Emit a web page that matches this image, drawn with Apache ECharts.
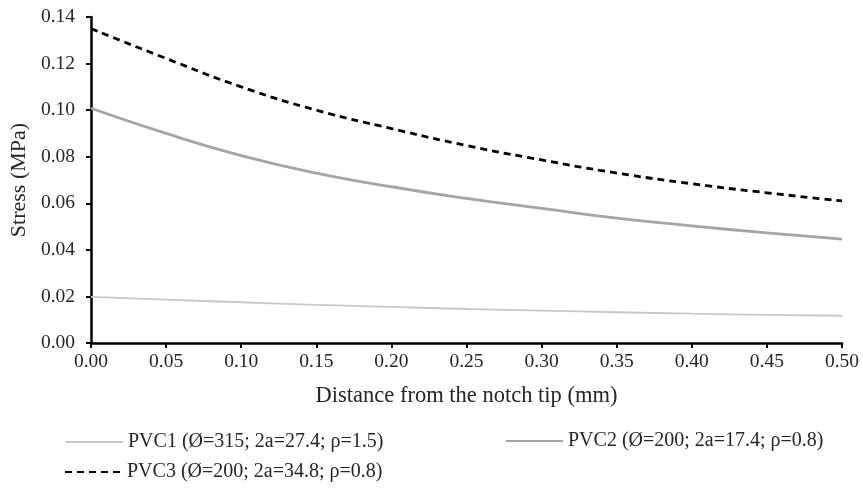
<!DOCTYPE html>
<html>
<head>
<meta charset="utf-8">
<script src="https://cdn.jsdelivr.net/npm/echarts@6/dist/echarts.min.js"></script>
<style>html,body{margin:0;padding:0;background:#fff}#c{width:863px;height:491px}</style>
</head>
<body>
<div id="c"></div>
<script>
const distances = [0.00, 0.05, 0.10, 0.15, 0.20, 0.25, 0.30, 0.35, 0.40, 0.45, 0.50];
const pvc1 = [0.0198, 0.0186, 0.0175, 0.0164, 0.0155, 0.0146, 0.0139, 0.0132, 0.0126, 0.0121, 0.0117];
const pvc2 = [0.1008, 0.0900, 0.0805, 0.0730, 0.0671, 0.0621, 0.0578, 0.0536, 0.0503, 0.0473, 0.0446];
const pvc3 = [0.1350, 0.1222, 0.1100, 0.1000, 0.0921, 0.0848, 0.0786, 0.0730, 0.0684, 0.0645, 0.0610];
const seriesNames = ['PVC1 (Ø=315; 2a=27.4; ρ=1.5)', 'PVC2 (Ø=200; 2a=17.4; ρ=0.8)', 'PVC3 (Ø=200; 2a=34.8; ρ=0.8)'];
const xTitle = 'Distance from the notch tip (mm)';
const yTitle = 'Stress (MPa)';

const font = 'Liberation Serif';
const textColor = '#262626';
const pairs = (ys) => distances.map((x, i) => [x, ys[i]]);
const chart = echarts.init(document.getElementById('c'));
const legendBase = {
  itemWidth: 57, itemHeight: 12, padding: 0,
  itemStyle: { opacity: 0 },
  textStyle: { fontFamily: font, fontSize: 20, color: textColor }
};
chart.setOption({
  animation: false,
  backgroundColor: '#fff',
  grid: { left: 89, right: 21, top: 17, bottom: 148 },
  xAxis: {
    type: 'value', min: 0, max: 0.5, interval: 0.05,
    name: xTitle, nameLocation: 'middle', nameGap: 42,
    nameTextStyle: { fontFamily: font, fontSize: 22.5, color: textColor },
    axisLine: { lineStyle: { color: '#000', width: 2.5 } },
    axisTick: { show: true, length: 5, lineStyle: { color: '#000', width: 2 } },
    axisLabel: { fontFamily: font, fontSize: 19.5, color: textColor, margin: 9, formatter: v => v.toFixed(2) },
    splitLine: { show: false }
  },
  yAxis: {
    type: 'value', min: 0, max: 0.14, interval: 0.02,
    name: yTitle, nameLocation: 'middle', nameGap: 53, nameRotate: 90,
    nameTextStyle: { fontFamily: font, fontSize: 22, color: textColor },
    axisLine: { show: true, lineStyle: { color: '#000', width: 2.5 } },
    axisTick: { show: true, length: 5, lineStyle: { color: '#000', width: 2 } },
    axisLabel: { fontFamily: font, fontSize: 19.5, color: textColor, margin: 16, formatter: v => v.toFixed(2) },
    splitLine: { show: false }
  },
  legend: [
    Object.assign({ data: [seriesNames[0]], left: 65, top: 432 }, legendBase),
    Object.assign({ data: [seriesNames[1]], left: 505, top: 431 }, legendBase),
    Object.assign({ data: [seriesNames[2]], left: 64, top: 462 }, legendBase)
  ],
  series: [
    { name: seriesNames[0], type: 'line', smooth: true, symbol: 'none', data: pairs(pvc1),
      lineStyle: { color: '#c8c8c8', width: 1.8 }, itemStyle: { color: '#c8c8c8' } },
    { name: seriesNames[1], type: 'line', smooth: true, symbol: 'none', data: pairs(pvc2),
      lineStyle: { color: '#a5a5a5', width: 2.8 }, itemStyle: { color: '#a5a5a5' } },
    { name: seriesNames[2], type: 'line', smooth: true, symbol: 'none', data: pairs(pvc3),
      lineStyle: { color: '#000', width: 2.8, type: [7, 5] }, itemStyle: { color: '#000' } }
  ]
});
</script>
</body>
</html>
